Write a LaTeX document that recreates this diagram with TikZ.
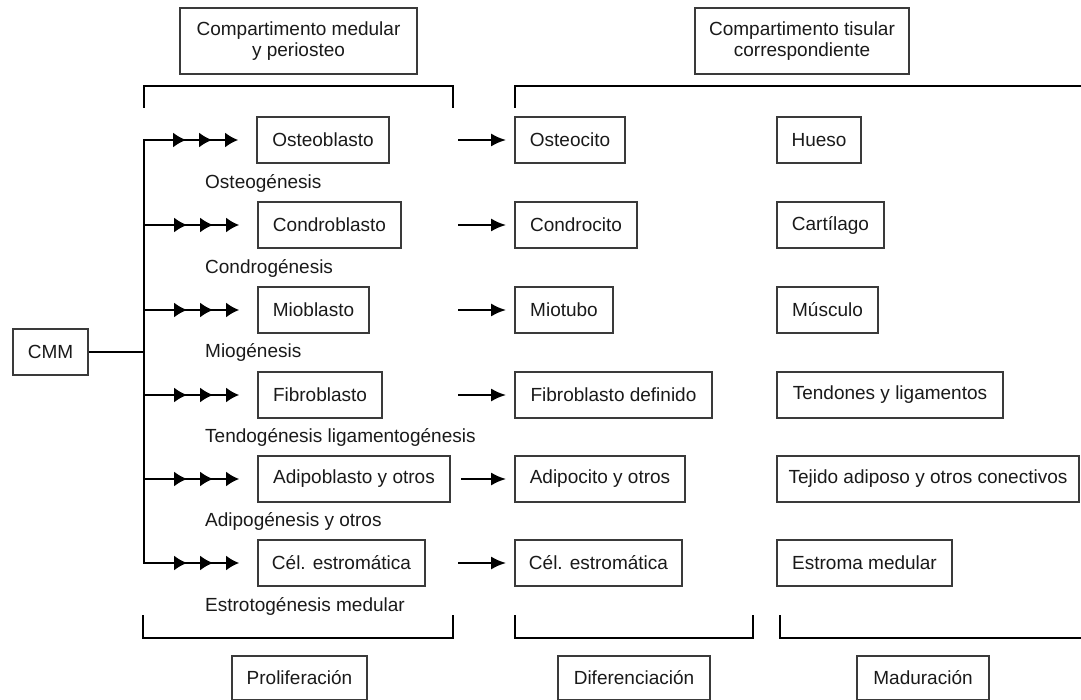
\documentclass[tikz,border=0pt]{standalone}
\usepackage{fontspec}
\setmainfont{Liberation Sans}
\usetikzlibrary{arrows.meta}
\definecolor{boxc}{HTML}{3A3A3A}
\definecolor{txt}{HTML}{1A1A1A}
\newcommand\fsz{\fontsize{19}{21}\selectfont}
\begin{document}
\begin{tikzpicture}[x=1pt,y=-1pt,
  box/.style={draw=boxc, line width=1.6pt, inner sep=1pt, minimum height=46pt, text=txt, font=\fsz},
  lab/.style={inner sep=0pt, anchor=west, text=txt, font=\fsz},
  link/.style={line width=2.5pt, draw=black},
  one/.style={link, -{Latex[length=15pt,width=13pt]}, shorten >=8pt},
  three/.style={link, -{Latex[length=13pt,width=15pt,sep=13pt] Latex[length=13pt,width=15pt,sep=13pt] Latex[length=13pt,width=15pt]}, shorten >=18pt},
  brk/.style={line width=2.6pt, draw=black}]
\useasboundingbox[fill=white] (0,0) rectangle (1081,700);

% headers
\node[box, minimum width=237pt, minimum height=66pt, align=center] (h1) at (298.5,41) {Compartimento medular\\y periosteo};
\node[box, minimum width=214pt, minimum height=66pt, align=center] (h2) at (802,41) {Compartimento tisular\\correspondiente};

% top brackets
\draw[brk] (144,108) -- (144,86) -- (453,86) -- (453,108);
\draw[brk] (515,108) -- (515,86) -- (1085,86);

% bottom brackets
\draw[brk] (143,615) -- (143,638) -- (453,638) -- (453,615);
\draw[brk] (515,615) -- (515,638) -- (753,638) -- (753,615);
\draw[brk] (780,615) -- (780,638) -- (1085,638);

% bottom boxes
\node[box, minimum width=135pt, minimum height=44pt] (b1) at (299.5,678) {Proliferación};
\node[box, minimum width=152pt, minimum height=44pt] (b2) at (634,678) {Diferenciación};
\node[box, minimum width=132pt, minimum height=44pt] (b3) at (923,678) {Maduración};

% column 1
\node[box, minimum width=132pt] (p1) at (323,140) {Osteoblasto};
\node[box, minimum width=143pt] (p2) at (329.5,225) {Condroblasto};
\node[box, minimum width=111pt] (p3) at (313.5,310) {Mioblasto};
\node[box, minimum width=124pt] (p4) at (320,395) {Fibroblasto};
\node[box, minimum width=192pt] (p5) at (354,479) {Adipoblasto y otros};
\node[box, minimum width=167pt] (p6) at (341.5,563) {Cél. estromática};

% column 2
\node[box, minimum width=110pt] (d1) at (570,140) {Osteocito};
\node[box, minimum width=122pt] (d2) at (576,225) {Condrocito};
\node[box, minimum width=98pt] (d3) at (564,310) {Miotubo};
\node[box, minimum width=197pt] (d4) at (613.5,395) {Fibroblasto definido};
\node[box, minimum width=170pt] (d5) at (600,479) {Adipocito y otros};
\node[box, minimum width=167pt] (d6) at (598.5,563) {Cél. estromática};

% column 3
\node[box, minimum width=84pt] (m1) at (819,140) {Hueso};
\node[box, minimum width=107pt] (m2) at (830.5,225) {Cartílago};
\node[box, minimum width=101pt] (m3) at (827.5,310) {Músculo};
\node[box, minimum width=226pt] (m4) at (890,395) {Tendones y ligamentos};
\node[box, minimum width=302pt] (m5) at (928,479) {Tejido adiposo y otros conectivos};
\node[box, minimum width=175pt] (m6) at (864.5,563) {Estroma medular};

% process labels
\node[lab] (g1) at (205,183) {Osteogénesis};
\node[lab] (g2) at (205,268) {Condrogénesis};
\node[lab] (g3) at (205,352) {Miogénesis};
\node[lab] (g4) at (205,437) {Tendogénesis ligamentogénesis};
\node[lab] (g5) at (205,521) {Adipogénesis y otros};
\node[lab] (g6) at (205,606) {Estrotogénesis medular};

% CMM
\node[box, minimum width=75pt, minimum height=46pt] (cmm) at (50.5,352) {CMM};

% trunk
\coordinate (j1) at (144,140);
\coordinate (j2) at (144,225);
\coordinate (j3) at (144,310);
\coordinate (j4) at (144,395);
\coordinate (j5) at (144,479);
\coordinate (j6) at (144,563);
\draw[link, line cap=rect] (j1) -- (j6);
\draw[line width=1.8pt] (cmm.east) -- (cmm.east -| j1);

\draw[three] (j1) -- (p1.west);
\draw[three] (j2) -- (p2.west);
\draw[three] (j3) -- (p3.west);
\draw[three] (j4) -- (p4.west);
\draw[three] (j5) -- (p5.west);
\draw[three] (j6) -- (p6.west);

% single arrows
\coordinate (s1) at (458,140);
\coordinate (s2) at (458,225);
\coordinate (s3) at (458,310);
\coordinate (s4) at (458,395);
\coordinate (s5) at (461,479);
\coordinate (s6) at (458,563);
\draw[one] (s1) -- (d1.west);
\draw[one] (s2) -- (d2.west);
\draw[one] (s3) -- (d3.west);
\draw[one] (s4) -- (d4.west);
\draw[one] (s5) -- (d5.west);
\draw[one] (s6) -- (d6.west);
\end{tikzpicture}
\end{document}
